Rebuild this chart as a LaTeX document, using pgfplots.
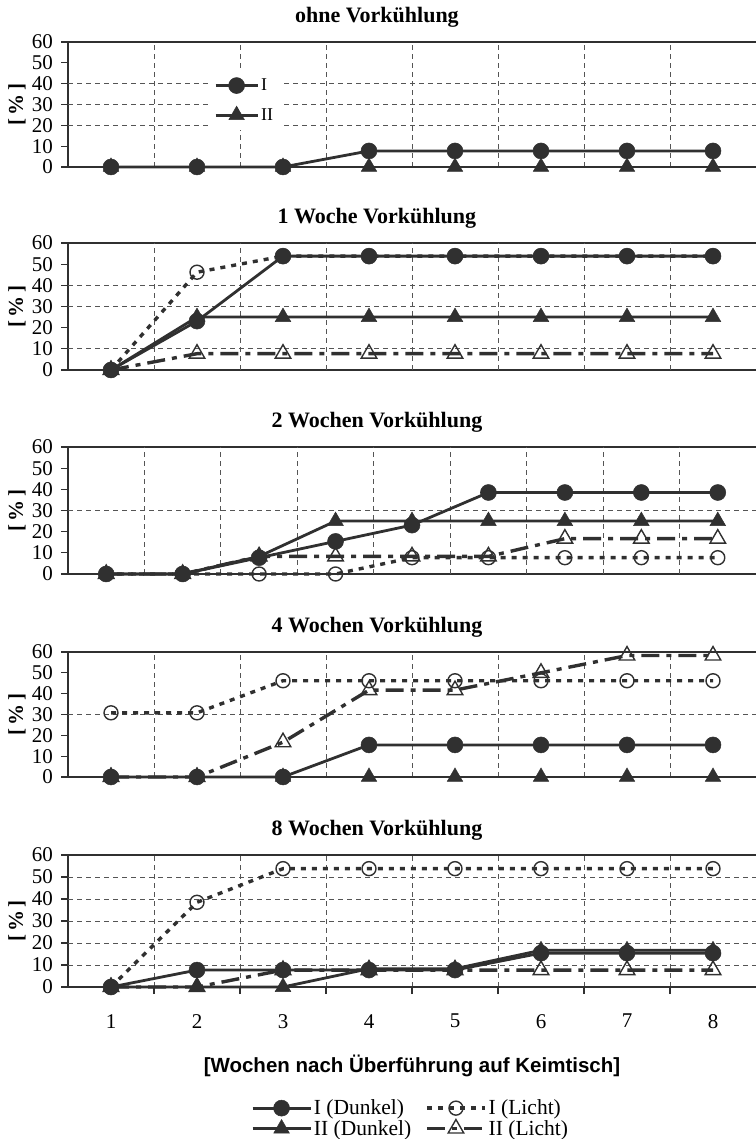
\documentclass[border=0pt]{standalone}
\usepackage{fontspec}
\setmainfont{Liberation Serif}
\setsansfont{Liberation Sans}
\usepackage{pgfplots}
\pgfplotsset{compat=1.18}
\definecolor{ink}{HTML}{303030}
\definecolor{gridc}{HTML}{555555}

\pgfplotsset{
  panel/.style={
    scale only axis, width=688bp,
    xmin=0.5, xmax=8.5, ymin=0, ymax=60,
    axis x line*=box, axis y line*=left,
    axis line style={-, line width=2.2bp, ink},
    ytick={0,10,...,60},
    tick align=outside, ytick pos=left, xtick pos=left,
    major tick length=7bp,
    tick style={line width=1.3bp, ink},
    yticklabel style={font=\fontsize{21bp}{24bp}\selectfont, inner sep=0pt, anchor=east, xshift=-8bp},
    xticklabel style={font=\fontsize{21bp}{24bp}\selectfont, inner sep=0pt, anchor=north, yshift=-27bp},
    /pgf/number format/assume math mode=true,
    xtick=\empty,
    extra x ticks={1.5,2.5,...,7.5}, extra x tick labels={},
    extra x tick style={grid=major, major tick length=0pt},
    major grid style={gridc, line width=0.9bp, dash pattern=on 5bp off 4bp},
    extra y tick labels={},
    extra y tick style={grid=major},
    clip=false,
    title style={font=\bfseries\fontsize{22bp}{26bp}\selectfont, at={(0.449,1)}, anchor=center, yshift=19bp},
    ylabel={[\,\%\,]},
    ylabel style={font=\bfseries\fontsize{21bp}{24bp}\selectfont, at={(axis description cs:-0.074,0.5)}, anchor=center},
  },
  ID/.style={ink, line width=2.8bp, mark=*, mark size=8bp, mark options={solid, fill=ink, draw=ink, line width=0.5bp}},
  IID/.style={ink, line width=2.8bp, mark=triangle*, mark size=9bp, mark options={solid, fill=ink, draw=ink, line width=0.5bp}},
  IL/.style={ink, line width=3.4bp, dash pattern=on 5bp off 6bp, mark=o, mark size=7bp, mark options={solid, draw=ink, line width=1.4bp}},
  IIL/.style={ink, line width=3.4bp, dash pattern=on 18bp off 7bp on 5bp off 7bp, mark=triangle, mark size=9bp, mark options={solid, draw=ink, line width=1.4bp}},
}

\begin{document}
\begin{tikzpicture}
\path[use as bounding box] (0,0) rectangle (756bp,1139bp);

% ---------- Panel 1: ohne Vorkuehlung
\begin{axis}[panel, at={(68bp,972bp)}, anchor=south west, height=125bp,
  title={ohne Vorkühlung},
  extra y ticks={20,30,40},
  legend style={at={(0.2035,0.77)}, anchor=north west, fill=white, draw=none,
    inner sep=6bp, row sep=12bp, font=\fontsize{18bp}{21bp}\selectfont, legend cell align=left},
  legend image code/.code={\draw[mark repeat=2,mark phase=2,#1] plot coordinates {(0bp,0bp) (21bp,0bp) (42bp,0bp)};},
]
\addplot[ID] coordinates {(1,0) (2,0) (3,0) (4,7.7) (5,7.7) (6,7.7) (7,7.7) (8,7.7)};
\addlegendentry{I}
\addplot[IID] coordinates {(1,0) (2,0) (3,0) (4,0) (5,0) (6,0) (7,0) (8,0)};
\addlegendentry{II}
\end{axis}

% ---------- Panel 2: 1 Woche
\begin{axis}[panel, at={(68bp,769bp)}, anchor=south west, height=127bp,
  title={1 Woche Vorkühlung},
  extra y ticks={10,30,40},
]
\addplot[IL] coordinates {(1,0) (2,46.2) (3,53.8) (4,53.8) (5,53.8) (6,53.8) (7,53.8) (8,53.8)};
\addplot[ID] coordinates {(1,0) (2,23.1) (3,53.8) (4,53.8) (5,53.8) (6,53.8) (7,53.8) (8,53.8)};
\addplot[IIL] coordinates {(1,0) (2,7.7) (3,7.7) (4,7.7) (5,7.7) (6,7.7) (7,7.7) (8,7.7)};
\addplot[IID] coordinates {(1,0) (2,25) (3,25) (4,25) (5,25) (6,25) (7,25) (8,25)};
\end{axis}

% ---------- Panel 3: 2 Wochen (9 points)
\begin{axis}[panel, at={(68bp,565bp)}, anchor=south west, height=127bp,
  xmax=9.5, extra x ticks={1.5,2.5,...,8.5},
  title={2 Wochen Vorkühlung},
  extra y ticks={30},
]
\addplot[IL] coordinates {(1,0) (2,0) (3,0) (4,0) (5,7.7) (6,7.7) (7,7.7) (8,7.7) (9,7.7)};
\addplot[IIL] coordinates {(1,0) (2,0) (3,8.3) (4,8.3) (5,8.3) (6,8.3) (7,16.7) (8,16.7) (9,16.7)};
\addplot[ID] coordinates {(1,0) (2,0) (3,7.7) (4,15.4) (5,23.1) (6,38.5) (7,38.5) (8,38.5) (9,38.5)};
\addplot[IID] coordinates {(1,0) (2,0) (3,8.3) (4,25) (5,25) (6,25) (7,25) (8,25) (9,25)};
\end{axis}

% ---------- Panel 4: 4 Wochen
\begin{axis}[panel, at={(68bp,362bp)}, anchor=south west, height=125bp,
  title={4 Wochen Vorkühlung},
  extra y ticks={30},
]
\addplot[ID] coordinates {(1,0) (2,0) (3,0) (4,15.4) (5,15.4) (6,15.4) (7,15.4) (8,15.4)};
\addplot[IL] coordinates {(1,30.8) (2,30.8) (3,46.2) (4,46.2) (5,46.2) (6,46.2) (7,46.2) (8,46.2)};
\addplot[IID] coordinates {(1,0) (2,0) (3,0) (4,0) (5,0) (6,0) (7,0) (8,0)};
\addplot[IIL] coordinates {(1,0) (2,0) (3,16.7) (4,41.7) (5,41.7) (6,50) (7,58.3) (8,58.3)};
\end{axis}

% ---------- Panel 5: 8 Wochen
\begin{axis}[panel, at={(68bp,152bp)}, anchor=south west, height=132bp,
  title={8 Wochen Vorkühlung},
  extra y ticks={10,20,30,40,50},
  xtick={1.5,2.5,...,7.5}, xticklabels={}, xmajorgrids=true,
  extra x ticks={1,2,3,4,5,6,7,8}, extra x tick labels={1,2,3,4,5,6,7,8},
  extra x tick style={grid=none, major tick length=0pt},
  xlabel={[Wochen nach Überführung auf Keimtisch]},
  xlabel style={font=\sffamily\bfseries\fontsize{20.5bp}{24bp}\selectfont, at={(axis description cs:0.5,0)}, anchor=center, yshift=-79bp},
  legend columns=2,
  legend style={at={(0.2616,-0.995)}, anchor=west, draw=none, fill=none,
    font=\fontsize{21.5bp}{25bp}\selectfont, legend cell align=left,
    /tikz/every even column/.append style={column sep=12bp}},
  legend image code/.code={\draw[mark repeat=2,mark phase=2,#1] plot coordinates {(0bp,0bp) (29bp,0bp) (58bp,0bp)};},
]
\addplot[ID] coordinates {(1,0) (2,7.7) (3,7.7) (4,7.7) (5,7.7) (6,15.4) (7,15.4) (8,15.4)};
\addlegendentry{I (Dunkel)}
\addplot[IL] coordinates {(1,0) (2,38.5) (3,53.8) (4,53.8) (5,53.8) (6,53.8) (7,53.8) (8,53.8)};
\addlegendentry{I (Licht)}
\addplot[IID] coordinates {(1,0) (2,0) (3,0) (4,8.3) (5,8.3) (6,16.7) (7,16.7) (8,16.7)};
\addlegendentry{II (Dunkel)}
\addplot[IIL] coordinates {(1,0) (2,0) (3,7.7) (4,7.7) (5,7.7) (6,7.7) (7,7.7) (8,7.7)};
\addlegendentry{II (Licht)}
\end{axis}
\end{tikzpicture}
\end{document}
